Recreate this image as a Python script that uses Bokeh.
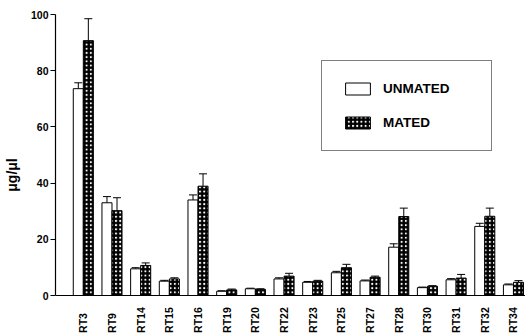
import math
from bokeh.plotting import figure
from bokeh.models import (ColumnDataSource, Range1d, FixedTicker, Whisker, TeeHead,
                          Legend, LegendItem, Span)
from bokeh.core.properties import value
from bokeh.embed import file_html
from bokeh.resources import INLINE

# Mean protein content per fraction (µg/µl) with standard error
categories = ["RT3", "RT9", "RT14", "RT15", "RT16", "RT19", "RT20", "RT22",
              "RT23", "RT25", "RT27", "RT28", "RT30", "RT31", "RT32", "RT34"]
unmated = [73.6, 33.0, 9.5, 5.1, 34.0, 1.5, 2.4, 5.9, 4.7, 8.1, 5.2, 17.2, 2.8, 5.6, 24.6, 3.8]
unmated_err = [2.1, 2.2, 0.4, 0.3, 1.8, 0.2, 0.2, 0.4, 0.3, 0.5, 0.3, 1.2, 0.2, 0.4, 1.1, 0.3]
mated = [90.7, 30.2, 10.7, 5.9, 38.9, 2.0, 2.2, 6.9, 5.1, 9.9, 6.5, 28.1, 3.3, 6.2, 28.2, 4.7]
mated_err = [7.8, 4.6, 0.9, 0.4, 4.4, 0.3, 0.2, 1.0, 0.3, 1.2, 0.4, 3.0, 0.2, 1.3, 2.9, 0.6]
y_ticks = [0, 20, 40, 60, 80, 100]

FONT = "Liberation Sans"
bar_w = 0.35
idx = list(range(len(categories)))

src_u = ColumnDataSource(dict(
    x=[i - bar_w / 2 for i in idx], top=unmated,
    upper=[v + e for v, e in zip(unmated, unmated_err)]))
src_m = ColumnDataSource(dict(
    x=[i + bar_w / 2 for i in idx], top=mated,
    upper=[v + e for v, e in zip(mated, mated_err)]))
src_lab = ColumnDataSource(dict(x=idx, y=[-13.3] * len(idx), text=categories))

# The frame runs to the bottom edge so the rotated fraction names fit below zero
p = figure(width=525, height=335, output_backend="svg", toolbar_location=None,
           x_range=Range1d(-0.97, 15.42), y_range=Range1d(-14.23, 100),
           min_border_left=53, min_border_right=0, min_border_top=14,
           min_border_bottom=0)
p.outline_line_color = None
p.grid.visible = False
p.xaxis.visible = False
p.background_fill_color = "white"
p.border_fill_color = "white"

r_u = p.vbar(x="x", top="top", bottom=0, width=bar_w, source=src_u,
             fill_color="white", line_color="black", line_width=1)
r_m = p.vbar(x="x", top="top", bottom=0, width=bar_w, source=src_m,
             fill_color="black", line_color="black", line_width=1,
             hatch_pattern="dot", hatch_color="white", hatch_scale=4.2,
             hatch_weight=1.8)

for src in (src_u, src_m):
    w = Whisker(source=src, base="x", lower="top", upper="upper",
                line_color="black", line_width=1,
                upper_head=TeeHead(size=8, line_color="black", line_width=1),
                lower_head=None)
    p.add_layout(w)

# baseline
p.add_layout(Span(location=0, dimension="width", line_color="black", line_width=1.2))

# y axis, drawn only between 0 and 100
p.yaxis.bounds = (0, 100)
p.yaxis.ticker = FixedTicker(ticks=y_ticks)
p.yaxis.minor_tick_line_color = None
p.yaxis.major_tick_out = 5
p.yaxis.major_tick_in = 0
p.yaxis.major_label_standoff = 2
p.yaxis.major_label_text_font = FONT
p.yaxis.major_label_text_font_style = "bold"
p.yaxis.major_label_text_font_size = "10.5px"
p.yaxis.major_label_text_color = "black"
p.yaxis.axis_line_color = "black"
p.yaxis.axis_line_width = 1.2
p.yaxis.axis_label = "μg/μl"
p.yaxis.axis_label_text_font = FONT
p.yaxis.axis_label_text_font_style = "bold"
p.yaxis.axis_label_text_font_size = "14px"
p.yaxis.axis_label_text_color = "black"
p.yaxis.axis_label_standoff = 8

# fraction names, rotated to read upward
p.text(x="x", y="y", text="text", source=src_lab, angle=math.pi / 2,
       text_align="left", text_baseline="middle",
       text_font=value(FONT), text_font_style="bold",
       text_font_size="10.5px", text_color="black")

legend = Legend(items=[LegendItem(label="UNMATED", renderers=[r_u]),
                       LegendItem(label="MATED", renderers=[r_m])],
                location=(266, 184), orientation="vertical",
                glyph_width=31, glyph_height=15, label_standoff=10,
                label_width=88, spacing=19, padding=20, margin=0,
                border_line_color="black", border_line_width=1.2,
                background_fill_color="white", background_fill_alpha=1,
                label_text_font=FONT, label_text_font_style="bold",
                label_text_font_size="13.5px", label_text_color="black")
p.add_layout(legend)

open("out.html", "w").write(file_html(p, INLINE))
